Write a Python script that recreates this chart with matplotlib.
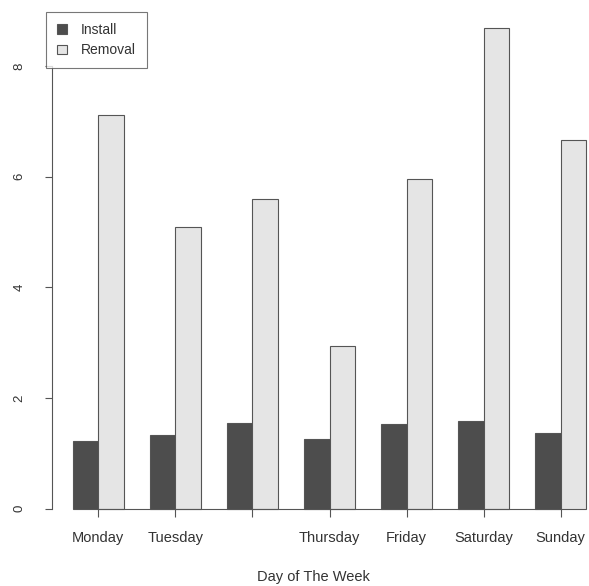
import matplotlib.pyplot as plt
import numpy as np

plt.rcParams['font.family'] = ['Liberation Sans', 'DejaVu Sans']

days = ["Monday", "Tuesday", "Wednesday", "Thursday", "Friday", "Saturday", "Sunday"]
install = [1.23, 1.34, 1.55, 1.26, 1.53, 1.59, 1.37]
removal = [7.11, 5.09, 5.60, 2.94, 5.96, 8.68, 6.66]

fig = plt.figure(figsize=(5.89, 5.86), dpi=100)
ax = fig.add_axes([52 / 589, 58 / 586, 555 / 589, 519 / 586])

# R style barplot(beside=TRUE): groups of two bars, one-unit gap
x = np.arange(len(days)) * 3 + 1.0
ax.bar(x, install, width=1, align='edge', color='#4d4d4d', edgecolor='#555555',
       linewidth=0.8, label='Install')
ax.bar(x + 1, removal, width=1, align='edge', color='#e5e5e5', edgecolor='#555555',
       linewidth=0.8, label='Removal')

ax.set_xlim(0.2, 21.8)
ax.set_ylim(-0.347, 9.03)

for s in ['top', 'right']:
    ax.spines[s].set_visible(False)
ax.spines['left'].set_bounds(0, 8)
ax.spines['left'].set_color('#555555')
ax.spines['bottom'].set_position(('data', 0))
ax.spines['bottom'].set_bounds(x[0] + 1, x[-1] + 1)
ax.spines['bottom'].set_color('#555555')

ax.set_yticks([0, 2, 4, 6, 8])
ax.set_yticklabels(['0', '2', '4', '6', '8'], rotation=90, va='center')
ax.tick_params(axis='y', length=5, width=0.8, color='#555555', pad=14, labelsize=9.5,
               labelcolor='#333333')

ax.set_xticks(x + 1)
ax.set_xticklabels(days)
# the long Wednesday label is dropped by R because it would overlap
ax.get_xticklabels()[2].set_visible(False)
ax.tick_params(axis='x', length=6, width=0.8, color='#555555', pad=10, labelsize=10.5,
               labelcolor='#333333')

fig.text(313 / 589, 1 - 577 / 586, "Day of The Week", ha='center',
         va='center', fontsize=10.5, color='#333333')

leg = ax.legend(loc='upper left', bbox_to_anchor=(46 / 589, 1 - 12 / 586),
                bbox_transform=fig.transFigure, fancybox=False, frameon=True,
                edgecolor='#555555', fontsize=10, handlelength=0.7, handleheight=0.7,
                handletextpad=1.0, borderpad=0.8, labelspacing=0.45, borderaxespad=0)
leg.get_frame().set_linewidth(0.8)
for t in leg.get_texts():
    t.set_color('#333333')

plt.savefig('out.png', dpi=100)
